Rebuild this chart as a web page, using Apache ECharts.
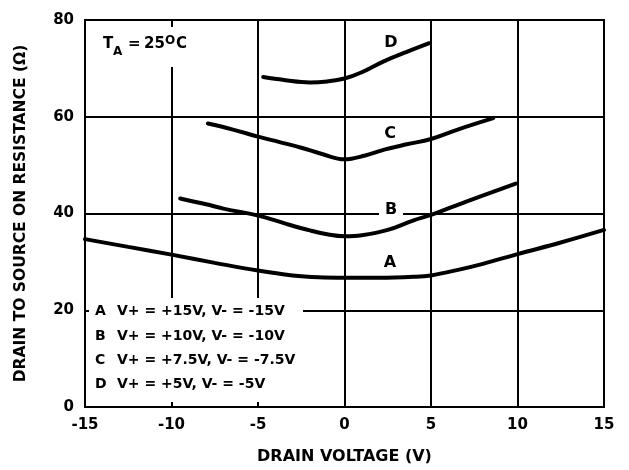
<!DOCTYPE html>
<html>
<head>
<meta charset="utf-8">
<script src="https://cdn.jsdelivr.net/npm/echarts@6/dist/echarts.min.js"></script>
<style>
html,body{margin:0;padding:0;background:#fff;}
#chart{width:629px;height:470px;}
</style>
</head>
<body>
<div id="chart"></div>
<script>
// Data
const xTicks = [-15, -10, -5, 0, 5, 10, 15];
const yTicks = [0, 20, 40, 60, 80];

const curveA = [[-15,34.7],[-12.5,33.1],[-10,31.5],[-7.5,29.8],[-5,28.2],[-3,27.2],[-1.5,26.8],[0,26.7],[2,26.7],[4,26.9],[5,27.2],[6.5,28.3],[8,29.6],[10,31.6],[12.5,34.0],[15,36.6]];
const curveB = [[-9.5,43.1],[-8,41.9],[-7,41.0],[-5,39.6],[-3.5,38.0],[-2,36.5],[-1,35.7],[0,35.3],[1,35.5],[2.5,36.6],[4,38.6],[5,39.7],[7,42.4],[9.9,46.2]];
const curveC = [[-7.9,58.6],[-6.5,57.4],[-5,55.9],[-3.8,54.8],[-2.5,53.6],[-1.3,52.3],[0,51.2],[1.2,52.0],[2.3,53.2],[3.6,54.3],[5,55.4],[6.5,57.3],[8.6,59.7]];
const curveD = [[-4.7,68.2],[-3.5,67.6],[-2,67.1],[-1,67.3],[0,67.9],[1,69.2],[2.3,71.5],[3.6,73.4],[4.9,75.2]];

const curveNames = ['A','B','C','D'];
const legendLines = [
  'V+ = +15V, V- = -15V',
  'V+ = +10V, V- = -10V',
  'V+ = +7.5V, V- = -7.5V',
  'V+ = +5V, V- = -5V'
];
const xTitle = 'DRAIN VOLTAGE (V)';
const yTitle = 'DRAIN TO SOURCE ON RESISTANCE (\u03A9)';

const FONT = '"DejaVu Sans", sans-serif';
const chart = echarts.init(document.getElementById('chart'), null, {renderer:'canvas'});

function lineSeries(name, data){
  return {
    name: name, type: 'line', data: data, smooth: 0.4, showSymbol: false, symbol: 'none',
    lineStyle: {color: '#000', width: 4, cap: 'round'}, z: 3, silent: true, animation: false
  };
}

function txt(x, y, text, size, align){
  return {type:'text', x:x, y:y, style:{text:text, font:'bold '+size+'px '+FONT, fill:'#000', align:align||'left', verticalAlign:'middle'}, z:11};
}

const graphics = [];
// white knockout behind the T_A label
graphics.push({type:'rect', left:98, top:27, shape:{width:98, height:40}, style:{fill:'#fff'}, z:10});
// T_A = 25°C
graphics.push(txt(103, 44.5, 'T', 15));
graphics.push(txt(113, 51.5, 'A', 12));
graphics.push(txt(128, 44.5, '=', 15));
graphics.push(txt(144, 44.5, '25', 15));
graphics.push(txt(165, 40.5, 'O', 12));
graphics.push(txt(176, 44.5, 'C', 15));

// legend knockout
graphics.push({type:'rect', left:89, top:298, shape:{width:214, height:104}, style:{fill:'#fff'}, z:10});
for (let i = 0; i < curveNames.length; i++) {
  const y = 311.5 + i * 24.4;
  graphics.push(txt(95, y, curveNames[i], 14));
  graphics.push(txt(117, y, legendLines[i], 14));
}

// curve labels
const curveLabelPos = {D:[391,42.5], C:[390,133.5], B:[391,210], A:[390,263]};
graphics.push({type:'rect', left:379, top:203, shape:{width:24, height:14}, style:{fill:'#fff'}, z:10});
curveNames.forEach(n => {
  const p = curveLabelPos[n];
  graphics.push(txt(p[0], p[1], n, 16, 'center'));
});

chart.setOption({
  animation: false,
  backgroundColor: '#fff',
  grid: {left:85, right:25, top:20, bottom:60, show:true, borderColor:'#000', borderWidth:2, backgroundColor:'transparent'},
  xAxis: {
    type:'value', min:xTicks[0], max:xTicks[xTicks.length-1], interval:5,
    axisLine:{show:false}, axisTick:{show:false},
    splitLine:{show:true, lineStyle:{color:'#000', width:2}},
    axisLabel:{color:'#000', fontFamily:FONT, fontWeight:'bold', fontSize:15, margin:11},
    name: xTitle, nameLocation:'middle', nameGap:42,
    nameTextStyle:{color:'#000', fontFamily:FONT, fontWeight:'bold', fontSize:16}
  },
  yAxis: {
    type:'value', min:yTicks[0], max:yTicks[yTicks.length-1], interval:20,
    axisLine:{show:false}, axisTick:{show:false},
    splitLine:{show:true, lineStyle:{color:'#000', width:2}},
    axisLabel:{color:'#000', fontFamily:FONT, fontWeight:'bold', fontSize:15, margin:11, verticalAlign:'middle', padding:[0,0,3,0]},
    name: yTitle, nameLocation:'middle', nameGap:56, nameRotate:90,
    nameTextStyle:{color:'#000', fontFamily:FONT, fontWeight:'bold', fontSize:15.5}
  },
  graphic: graphics,
  series: [
    lineSeries('A', curveA),
    lineSeries('B', curveB),
    lineSeries('C', curveC),
    lineSeries('D', curveD)
  ]
});
</script>
</body>
</html>
